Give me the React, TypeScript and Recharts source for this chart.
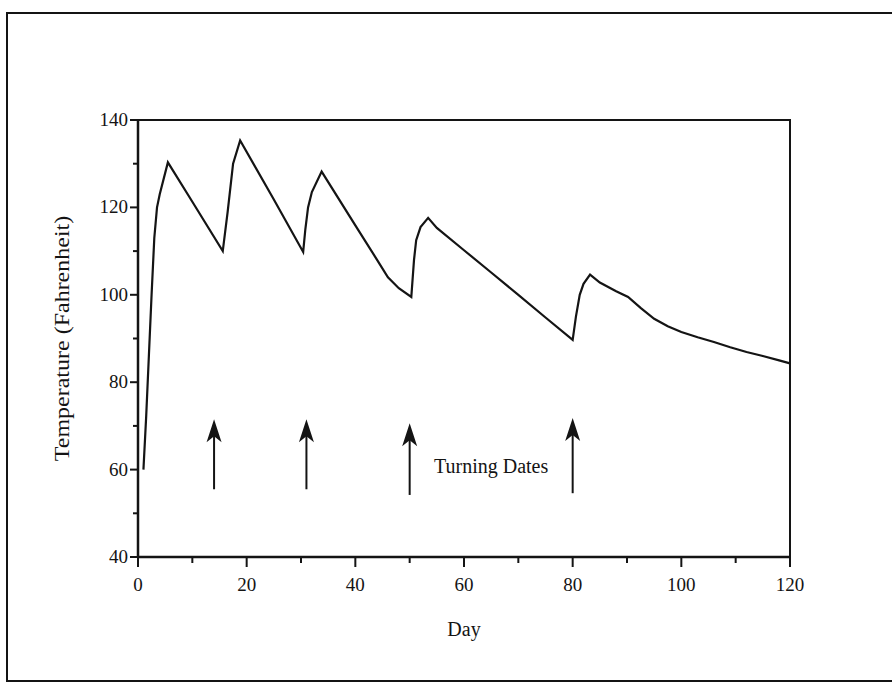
import { LineChart, Line, XAxis, YAxis, ReferenceArea, ReferenceLine, ReferenceDot } from "recharts"

const days = [
  1, 1.5, 2, 2.5, 3, 3.5, 4, 5.5, 10, 15.6, 16.5, 17.5, 18.8, 25, 30.4, 30.8, 31.3, 32, 33.8, 40, 44, 46, 48,
  50.3, 50.8, 51.2, 52, 53.4, 55, 60, 65, 70, 75, 80, 80.6, 81.3, 82, 83.2, 85, 88, 90.2, 92.5, 95, 97.5, 100,
  103, 106, 109, 112, 115, 118, 120,
]
const temps = [
  60, 72, 86, 100, 113, 120, 123, 130.3, 121.3, 110, 119, 130, 135.3, 121.8, 109.8, 115, 120, 123.5, 128.2, 115.9,
  108, 104, 101.5, 99.5, 108, 112.5, 115.5, 117.6, 115.3, 110.2, 105.1, 100, 94.8, 89.7, 95, 100, 102.5, 104.6,
  102.8, 100.8, 99.5, 97, 94.5, 92.8, 91.5, 90.3, 89.2, 88, 86.9, 86, 85, 84.3,
]

const xTicks = [0, 10, 20, 30, 40, 50, 60, 70, 80, 90, 100, 110, 120]
const yTicks = [40, 50, 60, 70, 80, 90, 100, 110, 120, 130, 140]

// turning dates: day, arrow tail temp, arrow tip temp
const turnDays = [14, 31, 50, 80]
const arrowTail = [55.5, 55.5, 54.2, 54.6]
const arrowTip = [71.5, 71.5, 70.6, 71.8]

const data = days.map((d, i) => ({ day: d, temp: temps[i] }))

const FONT = "'Liberation Serif', 'Times New Roman', serif"
const INK = "#141414"

const XTick = (props: any) => {
  const { x, y, payload } = props
  const axisY = y - 10 - 6
  const major = payload.value % 20 === 0
  return (
    <g>
      <line x1={x} y1={axisY} x2={x} y2={axisY + (major ? 10 : 6)} stroke={INK} strokeWidth={2} />
      {major && (
        <text x={x} y={axisY + 34} textAnchor="middle" fontSize={19} fontFamily={FONT} fill={INK}>
          {payload.value}
        </text>
      )}
    </g>
  )
}

const YTick = (props: any) => {
  const { x, y, payload } = props
  const axisX = x + 8 + 4
  const major = payload.value % 20 === 0
  return (
    <g>
      <line x1={axisX} y1={y} x2={axisX - (major ? 8 : 5)} y2={y} stroke={INK} strokeWidth={2} />
      {major && (
        <text x={axisX - 10} y={y + 6} textAnchor="end" fontSize={19} fontFamily={FONT} fill={INK}>
          {payload.value}
        </text>
      )}
    </g>
  )
}

const Arrow = (props: any) => {
  const { x1, y1, x2, y2 } = props
  const tipY = Math.min(y1, y2)
  const tailY = Math.max(y1, y2)
  return (
    <g>
      <line x1={x1} y1={tailY} x2={x1} y2={tipY + 14} stroke={INK} strokeWidth={2} />
      <polygon
        points={`${x1},${tipY} ${x1 - 7.5},${tipY + 23} ${x1},${tipY + 17} ${x1 + 7.5},${tipY + 23}`}
        fill={INK}
      />
    </g>
  )
}

export default function App() {
  return (
    <div style={{ position: "absolute", left: 0, top: 0, width: 892, height: 683, background: "#fff", overflow: "hidden" }}>
      <div
        style={{
          position: "absolute",
          left: 6,
          top: 12,
          width: 886,
          height: 666,
          borderLeft: `2px solid ${INK}`,
          borderTop: `2px solid ${INK}`,
          borderBottom: `2px solid ${INK}`,
        }}
      />
      <div style={{ position: "absolute", left: 0, top: 0 }}>
        <LineChart width={892} height={683} data={data} margin={{ top: 120, right: 102, bottom: 41, left: 48 }}>
          <XAxis
            dataKey="day"
            type="number"
            domain={[0, 120]}
            ticks={xTicks}
            interval={0}
            tickLine={false}
            tickSize={10}
            tickMargin={6}
            tick={<XTick />}
            axisLine={{ stroke: INK, strokeWidth: 2.5 }}
            height={85}
            label={{
              value: "Day",
              position: "insideBottom",
              offset: 6,
              style: { fontFamily: FONT, fontSize: 20, fill: INK },
            }}
          />
          <YAxis
            type="number"
            domain={[40, 140]}
            ticks={yTicks}
            interval={0}
            tickLine={false}
            tickSize={8}
            tickMargin={4}
            tick={<YTick />}
            axisLine={{ stroke: INK, strokeWidth: 2.5 }}
            width={90}
            label={{
              content: (p: any) => {
                const vb = p.viewBox
                const cx = vb.x + 14
                const cy = vb.y + vb.height / 2
                return (
                  <text
                    transform={`translate(${cx},${cy}) rotate(-90) scale(1,0.85)`}
                    textAnchor="middle"
                    dominantBaseline="central"
                    fontFamily={FONT}
                    fontSize={24}
                    fill={INK}
                  >
                    Temperature (Fahrenheit)
                  </text>
                )
              },
            }}
          />
          <ReferenceArea x1={0} x2={120} y1={40} y2={140} fill="none" stroke={INK} strokeWidth={2} />
          {turnDays.map((d, i) => (
            <ReferenceLine
              key={d}
              segment={[
                { x: d, y: arrowTail[i] },
                { x: d, y: arrowTip[i] },
              ]}
              shape={<Arrow />}
            />
          ))}
          <ReferenceDot
            x={65}
            y={60.8}
            r={0}
            stroke="none"
            label={{
              value: "Turning Dates",
              position: "center",
              style: { fontFamily: FONT, fontSize: 20, fill: INK },
            }}
          />
          <Line
            type="linear"
            dataKey="temp"
            stroke={INK}
            strokeWidth={2.2}
            dot={false}
            isAnimationActive={false}
          />
        </LineChart>
      </div>
    </div>
  )
}
